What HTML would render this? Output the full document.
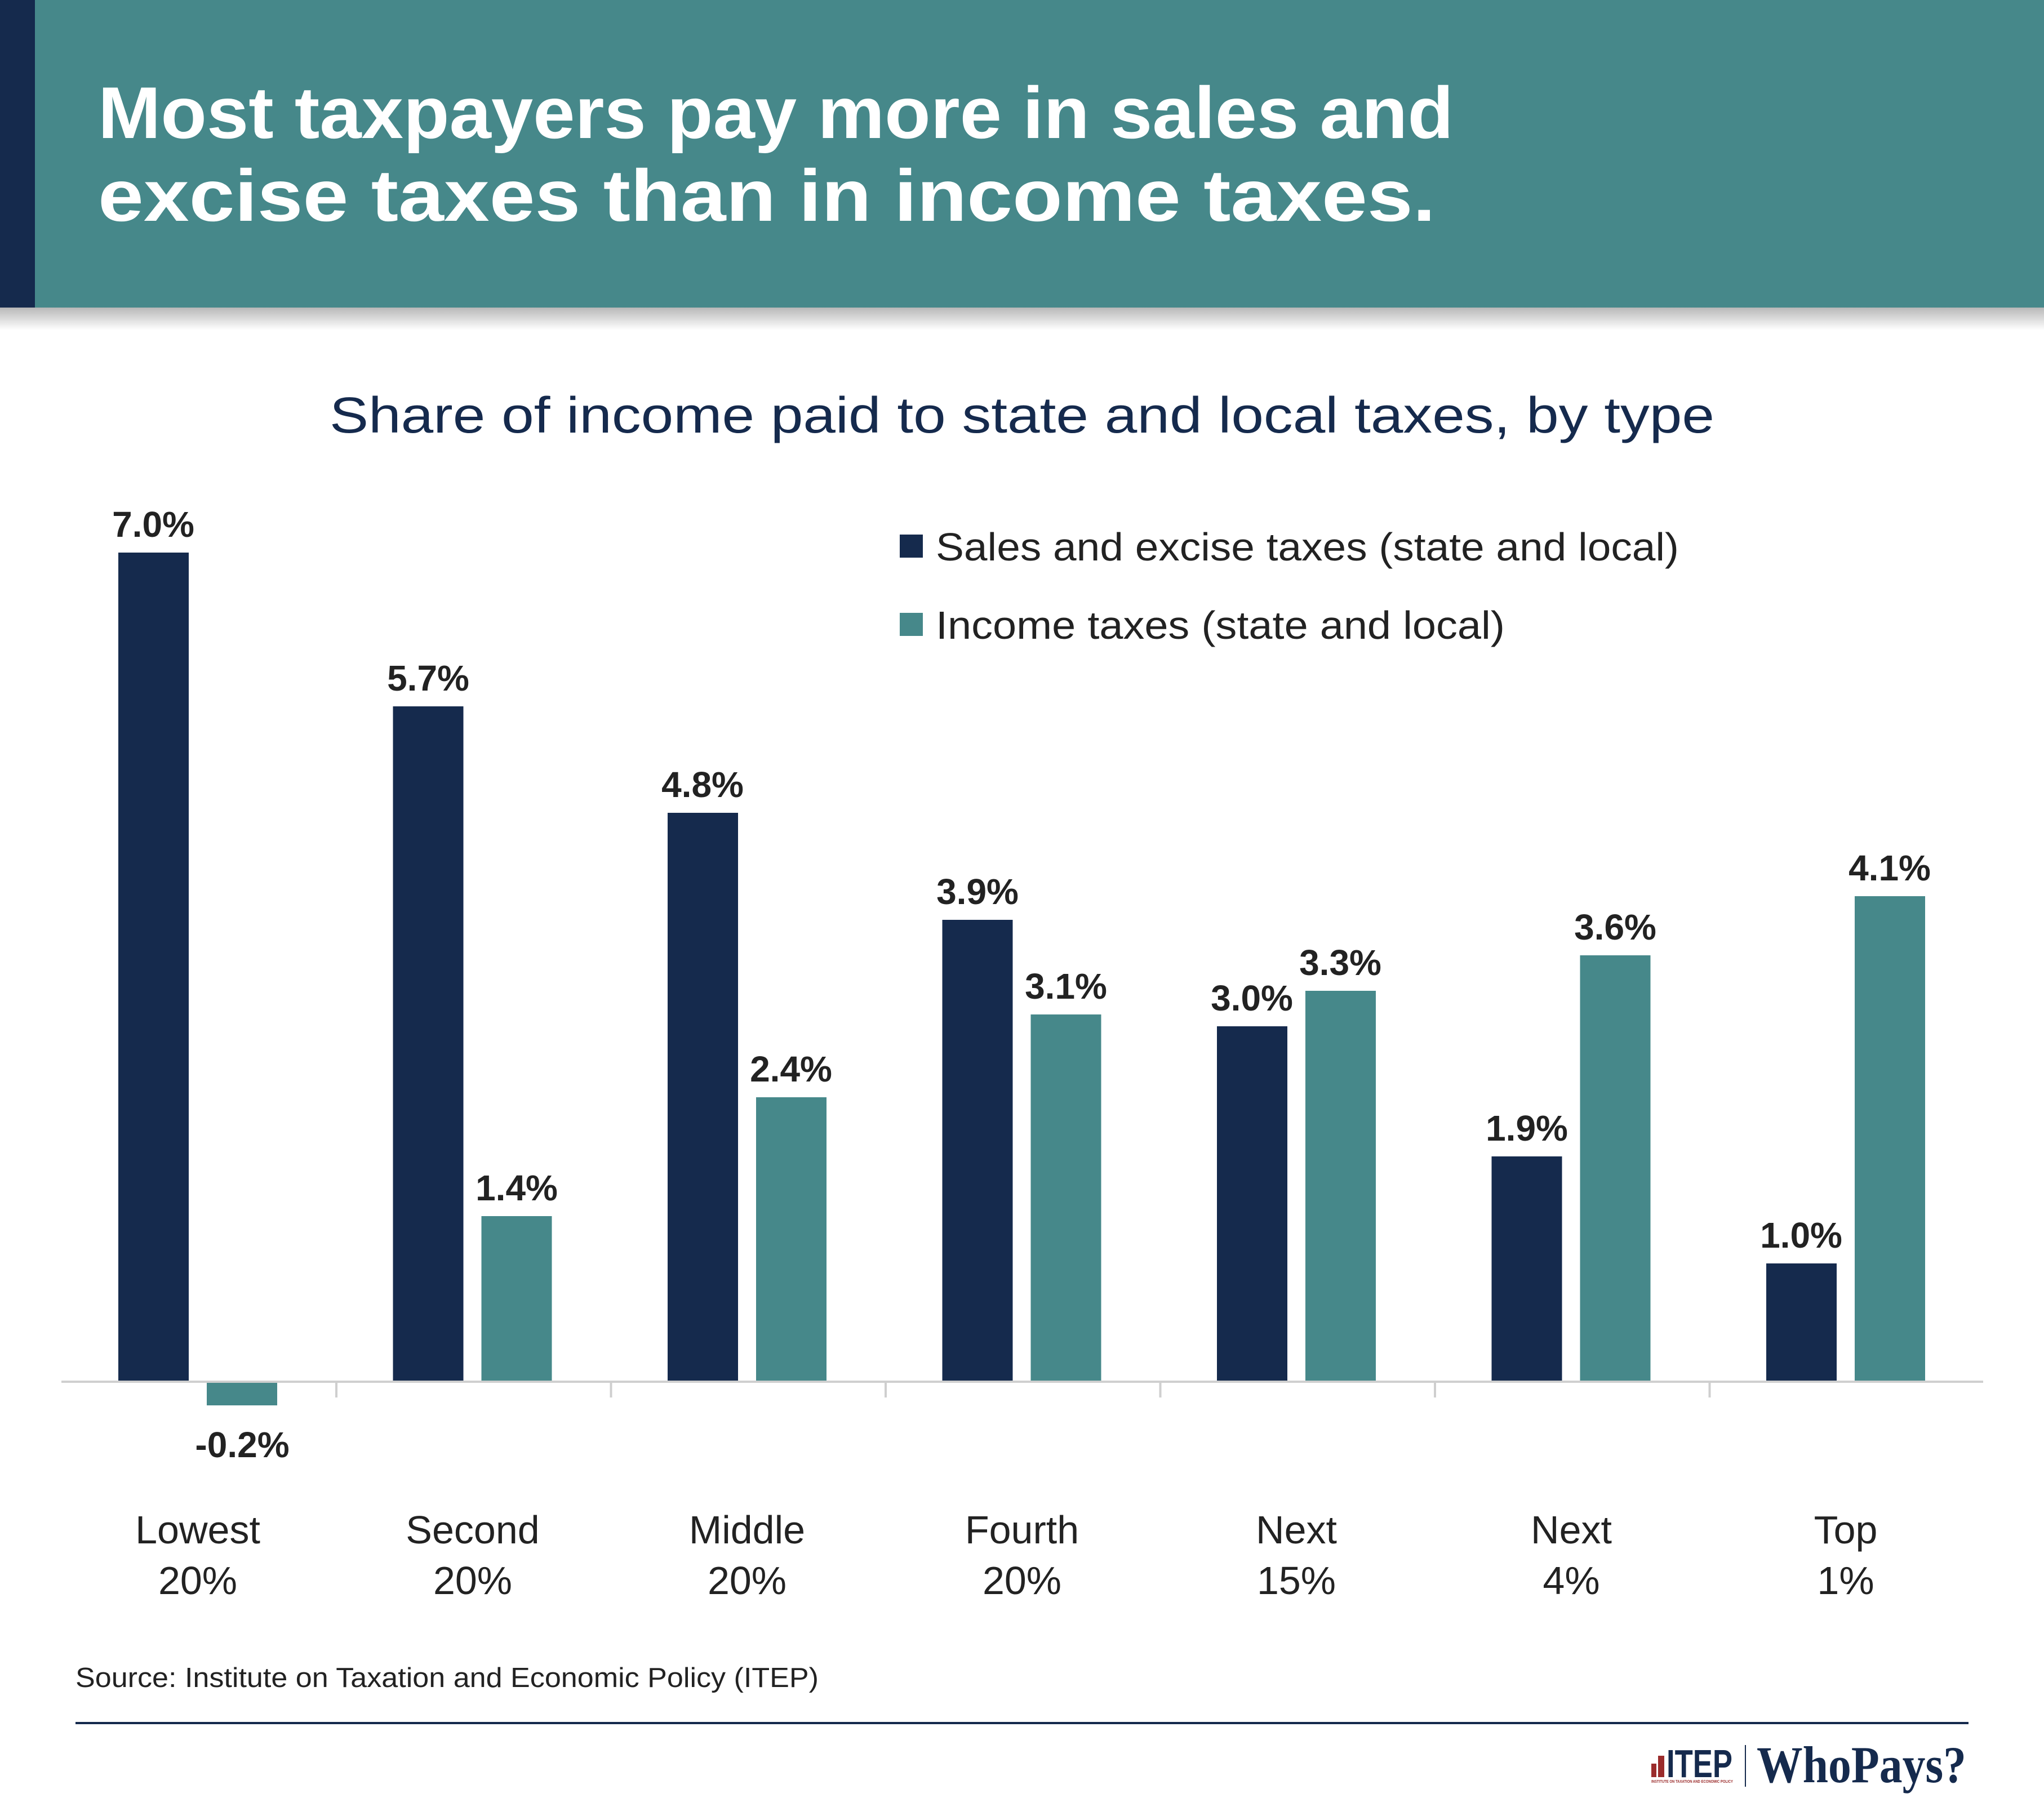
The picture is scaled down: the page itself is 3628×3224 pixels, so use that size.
<!DOCTYPE html>
<html><head><meta charset="utf-8"><style>
html,body{margin:0;padding:0;background:#fff;}
svg{display:block;}
</style></head><body>
<svg width="3628" height="3224" viewBox="0 0 3628 3224" xmlns="http://www.w3.org/2000/svg">
<defs>
<linearGradient id="sh" x1="0" y1="0" x2="0" y2="1">
<stop offset="0" stop-color="#000" stop-opacity="0.28"/>
<stop offset="1" stop-color="#000" stop-opacity="0"/>
</linearGradient>
</defs>
<rect x="0" y="0" width="3628" height="3224" fill="#fff"/>
<rect x="0" y="546" width="3628" height="40" fill="url(#sh)"/>
<rect x="0" y="0" width="3628" height="546" fill="#46888a"/>
<rect x="0" y="0" width="62" height="546" fill="#152a4d"/>
<g font-family="Liberation Sans, sans-serif" font-weight="bold" fill="#fff" font-size="130">
<text x="174" y="245" textLength="2406" lengthAdjust="spacingAndGlyphs">Most taxpayers pay more in sales and</text>
<text x="174" y="392" textLength="2374" lengthAdjust="spacingAndGlyphs">excise taxes than in income taxes.</text>
</g>
<text x="585" y="768" font-family="Liberation Sans, sans-serif" font-size="90" fill="#152a4d" textLength="2458" lengthAdjust="spacingAndGlyphs">Share of income paid to state and local taxes, by type</text>

<rect x="1597" y="949" width="41" height="41" fill="#152a4d"/>
<rect x="1597" y="1088" width="41" height="41" fill="#46888a"/>
<g font-family="Liberation Sans, sans-serif" font-size="70" fill="#222">
<text x="1661" y="995" textLength="1319" lengthAdjust="spacingAndGlyphs">Sales and excise taxes (state and local)</text>
<text x="1661" y="1134" textLength="1010" lengthAdjust="spacingAndGlyphs">Income taxes (state and local)</text>
</g>

<g>
<rect x="210" y="981" width="125" height="1472" fill="#152a4d"/>
<rect x="367" y="2453" width="125" height="42" fill="#46888a"/>
<rect x="697.5" y="1254" width="125" height="1199" fill="#152a4d"/>
<rect x="854.5" y="2159" width="125" height="294" fill="#46888a"/>
<rect x="1185" y="1443" width="125" height="1010" fill="#152a4d"/>
<rect x="1342" y="1948" width="125" height="505" fill="#46888a"/>
<rect x="1672.5" y="1633" width="125" height="820" fill="#152a4d"/>
<rect x="1829.5" y="1801" width="125" height="652" fill="#46888a"/>
<rect x="2160" y="1822" width="125" height="631" fill="#152a4d"/>
<rect x="2317" y="1759" width="125" height="694" fill="#46888a"/>
<rect x="2647.5" y="2053" width="125" height="400" fill="#152a4d"/>
<rect x="2804.5" y="1696" width="125" height="757" fill="#46888a"/>
<rect x="3135" y="2243" width="125" height="210" fill="#152a4d"/>
<rect x="3292" y="1591" width="125" height="862" fill="#46888a"/>
</g>
<line x1="109" y1="2453" x2="3520" y2="2453" stroke="#cfcfcf" stroke-width="4"/>
<g stroke="#cfcfcf" stroke-width="4">
<line x1="597" y1="2453" x2="597" y2="2481"/>
<line x1="1084.5" y1="2453" x2="1084.5" y2="2481"/>
<line x1="1572" y1="2453" x2="1572" y2="2481"/>
<line x1="2059.5" y1="2453" x2="2059.5" y2="2481"/>
<line x1="2547" y1="2453" x2="2547" y2="2481"/>
<line x1="3034.5" y1="2453" x2="3034.5" y2="2481"/>
</g>
<g font-family="Liberation Sans, sans-serif" font-weight="bold" font-size="64" fill="#222" text-anchor="middle">
<text x="272" y="953">7.0%</text>
<text x="430" y="2587">-0.2%</text>
<text x="760" y="1226">5.7%</text>
<text x="917" y="2131">1.4%</text>
<text x="1247" y="1415">4.8%</text>
<text x="1404" y="1920">2.4%</text>
<text x="1735" y="1605">3.9%</text>
<text x="1892" y="1773">3.1%</text>
<text x="2222" y="1794">3.0%</text>
<text x="2379" y="1731">3.3%</text>
<text x="2710" y="2025">1.9%</text>
<text x="2867" y="1668">3.6%</text>
<text x="3197" y="2215">1.0%</text>
<text x="3354" y="1563">4.1%</text>
</g>
<g font-family="Liberation Sans, sans-serif" font-size="70" fill="#222" text-anchor="middle">
<text x="351" y="2740">Lowest</text><text x="351" y="2830">20%</text>
<text x="839" y="2740">Second</text><text x="839" y="2830">20%</text>
<text x="1326" y="2740">Middle</text><text x="1326" y="2830">20%</text>
<text x="1814" y="2740">Fourth</text><text x="1814" y="2830">20%</text>
<text x="2301" y="2740">Next</text><text x="2301" y="2830">15%</text>
<text x="2789" y="2740">Next</text><text x="2789" y="2830">4%</text>
<text x="3276" y="2740">Top</text><text x="3276" y="2830">1%</text>
</g>
<text x="134" y="2995" font-family="Liberation Sans, sans-serif" font-size="49" fill="#222" textLength="1319" lengthAdjust="spacingAndGlyphs">Source: Institute on Taxation and Economic Policy (ITEP)</text>
<line x1="134" y1="3059" x2="3494" y2="3059" stroke="#152a4d" stroke-width="4"/>
<rect x="2931" y="3131" width="9" height="24" fill="#9b2c2c"/>
<rect x="2943" y="3117" width="11" height="38" fill="#9b2c2c"/>
<text x="2958" y="3155" font-family="Liberation Sans, sans-serif" font-weight="bold" font-size="70" fill="#152a4d" textLength="117" lengthAdjust="spacingAndGlyphs">ITEP</text>
<text x="2931" y="3165" font-family="Liberation Sans, sans-serif" font-weight="bold" font-size="7" fill="#9b2c2c" textLength="145" lengthAdjust="spacingAndGlyphs">INSTITUTE ON TAXATION AND ECONOMIC POLICY</text>
<line x1="3098" y1="3098" x2="3098" y2="3172" stroke="#152a4d" stroke-width="2"/>
<text x="3118" y="3164" font-family="Liberation Serif, serif" font-weight="bold" font-size="92" fill="#152a4d" textLength="372" lengthAdjust="spacingAndGlyphs">WhoPays?</text>
</svg>
</body></html>
